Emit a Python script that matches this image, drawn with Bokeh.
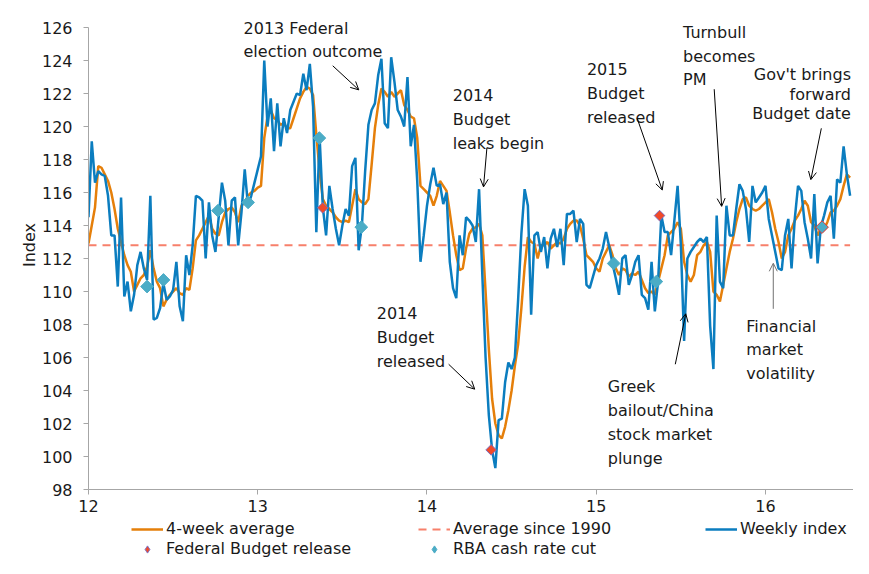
from bokeh.plotting import figure
from bokeh.layouts import column
from bokeh.models import Legend, LegendItem, Label, Arrow, OpenHead, FixedTicker
from bokeh.embed import file_html
from bokeh.resources import INLINE
import math

FONT = "DejaVu Sans"

# ---------------- data ----------------
start_year = 12
weeks_per_year = 52

weekly_index = [
    114.5, 119.1, 116.6, 117.3, 117.1, 117.0, 115.8, 113.4, 113.4, 110.3,
    115.7, 109.7, 110.6, 108.8, 109.8, 111.6, 112.4, 111.4, 110.7, 115.8,
    108.3, 108.4, 109.0, 110.5, 109.5, 109.7, 110.1, 111.8, 109.1, 108.2,
    112.2, 111.0, 112.8, 115.8, 115.7, 115.5, 112.0, 115.4, 113.4, 112.4,
    114.5, 116.6, 115.5, 112.8, 115.5, 115.7, 112.8, 114.8, 117.4, 115.2,
    115.8, 116.6, 117.4, 118.2, 124.0, 120.0, 121.7, 118.5, 121.4, 118.8,
    120.5, 119.6, 121.0, 121.5, 122.0, 121.9, 123.2, 122.2, 123.8, 121.2,
    113.6, 119.4, 115.1, 113.4, 116.4, 115.0, 113.8, 112.8, 114.0, 115.0,
    114.6, 117.6, 118.1, 112.5, 114.0, 117.3, 120.1, 121.0, 121.4, 123.1,
    124.1, 120.2, 119.9, 124.2, 122.7, 121.0, 120.6, 120.0, 123.0, 118.8,
    120.1, 116.7, 111.8, 113.4, 115.2, 116.5, 117.5, 116.4, 116.5, 115.3,
    116.0, 111.8, 110.2, 109.6, 113.4, 112.2, 114.5, 114.3, 114.0, 113.0,
    116.2, 111.0, 106.0, 102.5, 100.4, 99.3, 102.2, 102.3, 104.5, 105.7,
    105.3, 106.0, 109.5, 113.5, 116.2, 115.2, 108.6, 113.4, 113.6, 112.4,
    113.3, 111.4, 113.2, 113.8, 112.7, 113.8, 111.6, 114.7, 114.7, 114.9,
    113.0, 114.4, 114.1, 110.4, 110.2, 110.9, 111.6, 112.0, 112.6, 113.6,
    112.7, 111.7, 110.8, 109.8, 112.0, 112.2, 110.4, 111.0, 111.8, 112.2,
    109.8, 109.6, 108.9, 111.8, 108.8, 110.6, 114.6, 113.6, 113.6, 112.2,
    114.3, 116.4, 112.8, 107.0, 112.0, 112.4, 112.7, 113.0, 113.2, 113.0,
    113.3, 107.9, 105.3, 114.6, 110.6, 110.2, 115.2, 113.4, 113.4, 115.0,
    116.5, 116.1, 115.0, 113.0, 116.4, 115.4, 115.7, 116.0, 116.4, 114.4,
    113.4, 112.4, 111.4, 111.3, 113.4, 114.4, 111.4, 114.4, 116.4, 116.1,
    114.2, 113.2, 112.0, 115.9, 111.7, 113.9, 114.6, 115.4, 115.8, 113.2,
    116.8, 116.6, 118.8, 117.1, 115.8,
]

four_week_avg = [
    112.9, 114.0, 115.1, 117.6, 117.5, 117.1, 116.7, 116.0, 115.0, 113.8,
    113.0, 112.2, 111.6, 111.2, 110.0, 110.4, 110.8, 111.0, 111.5, 112.5,
    111.4, 110.6, 110.2, 109.1, 109.5, 109.8, 110.0, 110.2, 109.9, 109.8,
    110.2, 110.1, 111.4, 113.1, 113.4, 113.8, 114.2, 114.6, 113.8, 113.5,
    113.4, 114.2, 114.8, 115.0, 115.1, 114.8, 114.2, 115.2, 115.4, 115.8,
    116.0, 116.1, 116.3, 116.4, 119.3, 120.6, 121.0, 120.5, 120.4, 120.1,
    120.2, 119.9, 119.9, 120.5, 121.1, 121.7, 122.1, 122.4, 122.3, 121.9,
    119.5, 117.3, 115.6, 115.2, 115.0, 114.8, 114.5, 114.3, 114.2, 114.3,
    114.2, 115.2, 116.2, 115.6, 115.4, 115.3, 115.6, 117.7, 119.9, 121.3,
    122.3, 122.1, 121.8, 122.1, 121.8, 122.0, 122.2, 121.3, 121.0, 120.6,
    120.5, 119.3, 116.4, 116.2, 116.0, 115.8, 115.2, 115.8, 116.7, 116.4,
    116.1, 114.8, 113.4, 112.2, 111.3, 111.4, 112.6, 113.5, 113.8, 113.9,
    114.1, 113.4, 110.0, 106.5, 103.5, 102.0, 101.3, 101.1, 101.8, 102.8,
    104.0, 105.5, 106.8, 109.0, 111.5, 113.3, 113.0, 112.9, 112.0, 112.8,
    112.8, 113.0, 112.6, 112.8, 113.0, 112.9, 113.2, 113.8, 114.1, 114.3,
    114.3, 114.0, 113.2, 112.2, 112.0, 111.8, 111.4, 111.2, 112.0, 112.4,
    112.8, 112.2, 111.4, 111.0, 111.4, 111.3, 110.9, 111.1, 111.0, 111.2,
    110.7, 110.2, 109.9, 110.0, 109.8, 110.6, 111.4, 112.2, 113.4, 113.6,
    113.8, 114.2, 113.8, 111.8, 111.0, 110.6, 111.0, 112.2, 112.4, 112.8,
    113.0, 112.4, 110.0, 109.8, 109.4, 110.4, 111.4, 112.4, 113.2, 114.2,
    115.0, 115.6, 115.7, 115.2, 115.0, 114.9, 115.0, 115.2, 115.4, 115.6,
    114.8, 113.8, 113.0, 112.0, 112.4, 113.4, 113.8, 114.3, 114.6, 115.0,
    115.5, 115.2, 114.2, 114.0, 113.4, 113.8, 113.8, 114.2, 114.8, 114.9,
    115.2, 115.6, 116.4, 117.1, 116.9,
]

average_since_1990 = 112.8

budget_x = [13.384, 14.379, 15.374, 16.334]
budget_y = [115.07, 100.4, 114.6, 113.9]

rba_x = [12.346, 12.443, 12.765, 12.943, 13.364, 13.612, 15.103, 15.355, 16.334]
rba_y = [110.3, 110.7, 114.9, 115.4, 119.3, 113.9, 111.7, 110.6, 113.9]
rba_edge = ["#4bacc6"] * 8 + ["#e8352a"]

x_ticks = [12, 13, 14, 15, 16]
y_ticks = list(range(98, 127, 2))
y_min, y_max = 98, 126

week_x = [start_year + i / weeks_per_year for i in range(len(weekly_index))]
avg_line = [average_since_1990] * len(week_x)

# colours / styles
C_AVG = "#f7806b"
C_4WK = "#e57f0a"
C_WK = "#0b7dbf"
C_BUD = "#f04a2a"
C_BUD_EDGE = "#7f6fbf"
C_RBA = "#4bacc6"

W, H_MAIN, H_LEG = 853, 519, 39
FRAME_BOTTOM = 489  # px from top of main figure where y = 98
px_per_unit = (FRAME_BOTTOM - 27) / (y_max - y_min)
y_top = y_min + FRAME_BOTTOM / px_per_unit

# ---------------- main figure ----------------
p = figure(width=W, height=H_MAIN, x_range=(12, 16.52), y_range=(y_min, y_top),
           output_backend="svg", toolbar_location=None, title=None,
           min_border_left=88, min_border_right=0, min_border_top=0,
           min_border_bottom=H_MAIN - FRAME_BOTTOM)
p.grid.visible = False
p.outline_line_color = None
p.background_fill_color = "white"
p.border_fill_color = "white"

p.line(week_x, avg_line, line_color=C_AVG, line_width=2, line_dash="8 6")
p.line(week_x, four_week_avg, line_color=C_4WK, line_width=2.5)
p.line(week_x, weekly_index, line_color=C_WK, line_width=2.5)
p.scatter(budget_x, budget_y, marker="square", angle=math.pi / 4, size=7.5,
          fill_color=C_BUD, line_color=C_BUD_EDGE, line_width=1)
p.scatter(x=rba_x, y=rba_y, marker="square", angle=math.pi / 4, size=9,
          fill_color=C_RBA, line_color=rba_edge, line_width=1)

# axes
p.xaxis.ticker = FixedTicker(ticks=x_ticks)
p.yaxis.ticker = FixedTicker(ticks=y_ticks)
p.yaxis.bounds = (y_min, y_max)
for ax in (p.xaxis[0], p.yaxis[0]):
    ax.axis_line_color = "#a6a6a6"
    ax.major_tick_line_color = "#a6a6a6"
    ax.minor_tick_line_color = None
    ax.major_tick_in = 0
    ax.major_tick_out = 5
    ax.major_label_text_font = FONT
    ax.major_label_text_font_size = "16px"
    ax.major_label_text_color = "#1a1a1a"
p.yaxis.major_label_standoff = 11
p.xaxis.major_label_standoff = 5
p.yaxis.axis_label = "Index"
p.yaxis.axis_label_text_font = FONT
p.yaxis.axis_label_text_font_size = "16px"
p.yaxis.axis_label_text_font_style = "normal"
p.yaxis.axis_label_text_color = "#1a1a1a"
p.yaxis.axis_label_standoff = 0

# annotations
notes = [
    (12.916, 126.54, "2013 Federal\nelection outcome", "left"),
    (14.152, 122.44, "2014\nBudget\nleaks begin", "left"),
    (14.945, 124.02, "2015\nBudget\nreleased", "left"),
    (15.513, 126.28, "Turnbull\nbecomes\nPM", "left"),
    (16.505, 123.72, "Gov't brings", "right"),
    (16.505, 122.54, "forward", "right"),
    (16.505, 121.36, "Budget date", "right"),
    (13.703, 109.22, "2014\nBudget\nreleased", "left"),
    (15.068, 104.79, "Greek\nbailout/China\nstock market\nplunge", "left"),
    (15.886, 108.47, "Financial\nmarket\nvolatility", "left"),
]
for x, y, t, al in notes:
    p.add_layout(Label(x=x, y=y, text=t, text_font=FONT, text_font_size="16px",
                       text_baseline="top", text_align=al, text_line_height=1.25,
                       text_color="#1a1a1a"))

arrows = [
    (13.443, 123.68, 13.597, 122.22, "black"),
    (14.354, 118.71, 14.334, 116.34, "black"),
    (15.242, 120.49, 15.390, 116.15, "black"),
    (15.697, 122.26, 15.741, 115.16, "black"),
    (16.330, 119.89, 16.268, 116.78, "black"),
    (14.128, 105.59, 14.282, 104.08, "black"),
    (15.467, 105.59, 15.529, 108.65, "black"),
    (16.046, 108.95, 16.046, 111.71, "#707070"),
]
for x0, y0, x1, y1, c in arrows:
    p.add_layout(Arrow(x_start=x0, y_start=y0, x_end=x1, y_end=y1, line_color=c, line_width=1,
                       end=OpenHead(size=8, line_color=c, line_width=1)))

# ---------------- legend strip ----------------
lg = figure(width=W, height=H_LEG, x_range=(0, 1), y_range=(0, 1),
            output_backend="svg", toolbar_location=None, title=None,
            x_axis_location=None, y_axis_location=None,
            min_border_left=0, min_border_right=0, min_border_top=0, min_border_bottom=0)
lg.grid.visible = False
lg.outline_line_color = None
# key glyphs: same series, lying outside this strip's ranges so only the keys show
k_4wk = lg.line(week_x, four_week_avg, line_color=C_4WK, line_width=2.5)
k_avg = lg.line(week_x, avg_line, line_color=C_AVG, line_width=2, line_dash="8 6")
k_wk = lg.line(week_x, weekly_index, line_color=C_WK, line_width=2.5)
k_bud = lg.scatter(budget_x, budget_y, marker="diamond", size=10,
                   fill_color=C_BUD, line_color=C_BUD_EDGE, line_width=1)
k_rba = lg.scatter(rba_x, rba_y, marker="diamond", size=10,
                   fill_color=C_RBA, line_color=C_RBA, line_width=1)

legend = Legend(items=[
    LegendItem(label="4-week average", renderers=[k_4wk]),
    LegendItem(label="Average since 1990", renderers=[k_avg]),
    LegendItem(label="Weekly index", renderers=[k_wk]),
    LegendItem(label="Federal Budget release", renderers=[k_bud]),
    LegendItem(label="RBA cash rate cut", renderers=[k_rba]),
], ncols=3, orientation="horizontal", location=(43, 0),
    glyph_width=32, glyph_height=18, label_height=18, label_width=251,
    label_standoff=3, spacing=1, padding=0, margin=0,
    border_line_color=None, background_fill_alpha=0,
    label_text_font=FONT, label_text_font_size="16px", label_text_color="#1a1a1a")
lg.add_layout(legend)

layout = column(p, lg, spacing=0)
open("out.html", "w").write(file_html(layout, INLINE))
